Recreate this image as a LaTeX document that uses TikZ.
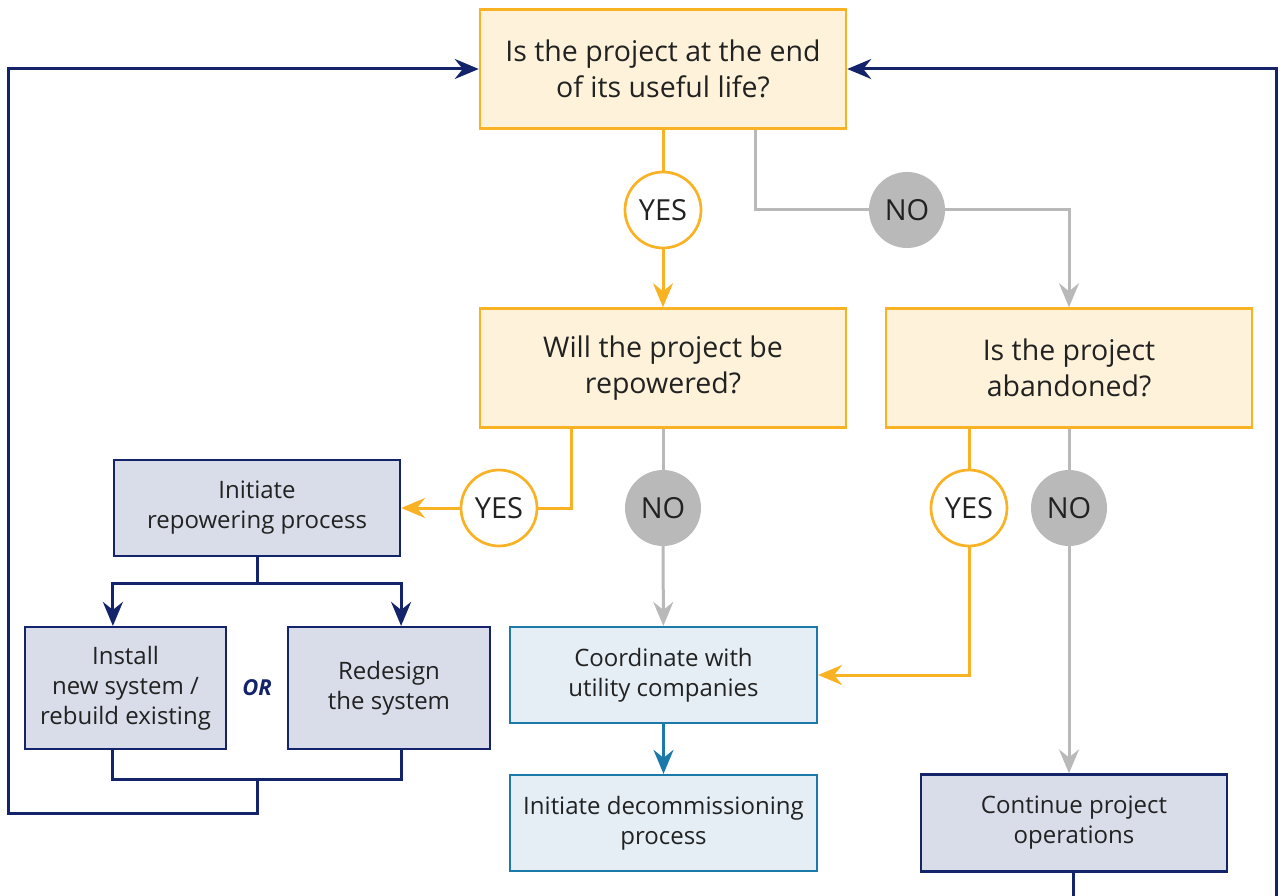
\documentclass[tikz,border=0pt]{standalone}
\usepackage{fontspec}
\setmainfont{Open Sans}
\usetikzlibrary{arrows.meta}

\definecolor{amber}{HTML}{F9B224}
\definecolor{cream}{HTML}{FEF3DA}
\definecolor{navy}{HTML}{14246A}
\definecolor{slatefill}{HTML}{D9DDE9}
\definecolor{steel}{HTML}{1C7AAB}
\definecolor{icefill}{HTML}{E5EEF5}
\definecolor{ash}{HTML}{B9B9B9}
\definecolor{ink}{HTML}{222222}

\tikzset{
  question/.style={draw=amber, fill=cream, line width=2.5pt, minimum width=366pt,
    minimum height=119pt, align=center, text=ink, font=\fontsize{28.5}{36}\selectfont},
  action/.style={draw=navy, fill=slatefill, line width=2.2pt, align=center, text=ink,
    font=\fontsize{24}{30}\selectfont},
  utility/.style={draw=steel, fill=icefill, line width=2.2pt, align=center, text=ink,
    minimum width=307pt, minimum height=96pt, font=\fontsize{24}{30}\selectfont},
  yesdot/.style={circle, draw=amber, fill=white, line width=2.7pt, minimum size=76pt,
    inner sep=0pt, text=ink, font=\fontsize{29}{30}\selectfont},
  nodot/.style={circle, fill=ash, minimum size=76pt, inner sep=0pt, text=ink,
    font=\fontsize{29}{30}\selectfont},
  tip/.style={-{Stealth[length=24pt,width=20pt,inset=8pt]}},
  yesline/.style={draw=amber, line width=3pt},
  noline/.style={draw=ash, line width=3pt},
  loopline/.style={draw=navy, line width=3pt},
  flowline/.style={draw=steel, line width=3pt}
}

\begin{document}
\begin{tikzpicture}[x=1pt, y=-1pt]
    \useasboundingbox (0,0) rectangle (1286,896);

    % Questions
    \node[question] (q1) at (663,69) {Is the project at the end\\of its useful life?};
    \node[question] (q2) at (663,368) {Will the project be\\repowered?};
    \node[question] (q3) at (1069,368) {Is the project\\abandoned?};

    % Answers
    \node[yesdot] (yes1) at (663,210) {YES};
    \node[nodot] (no1) at (907,210) {NO};
    \node[yesdot] (yes2) at (499,508) {YES};
    \node[nodot] (no2) at (663,508) {NO};
    \node[yesdot] (yes3) at (969,508) {YES};
    \node[nodot] (no3) at (1069,508) {NO};

    % Repowering branch
    \node[action, minimum width=286pt, minimum height=96pt] (repower) at (257,508) {Initiate\\repowering process};
    \node[action, minimum width=201pt, minimum height=122pt] (install) at (125.5,688) {Install\\new system /\\rebuild existing};
    \node[action, minimum width=202pt, minimum height=122pt] (redesign) at (389,688) {Redesign\\the system};
    \node[text=navy, font=\fontsize{22}{24}\selectfont\bfseries\itshape] (or) at (257,688) {OR};

    % Decommissioning branch
    \node[utility] (utility) at (663.5,675) {Coordinate with\\utility companies};
    \node[utility] (decom) at (663.5,823) {Initiate decommissioning\\process};

    % Keep running
    \node[action, minimum width=306pt, minimum height=97pt] (operate) at (1074,823) {Continue project\\operations};

    % Helper points for the loops
    \coordinate (split) at (257,583);
    \coordinate (merge) at (257,779);
    \coordinate (loopL) at (8,813);
    \coordinate (loopR) at (1276,896);

    % First question
    \draw[yesline] (q1) -- (yes1);
    \draw[yesline, tip] (yes1) -- (q2);
    \draw[noline] (q1.south) ++(92,0) |- (no1);
    \draw[noline, tip] (no1) -| (q3.north);

    % Second question
    \draw[yesline] (q2.south) ++(-92,0) |- (yes2);
    \draw[yesline, tip] (yes2) -- (repower);
    \draw[noline] (q2) -- (no2);
    \draw[noline, tip] (no2) -- (utility);

    % Third question
    \draw[yesline] (q3.south) ++(-100,0) -- (yes3);
    \draw[yesline, tip] (yes3) |- (utility.east);
    \draw[noline] (q3) -- (no3);
    \draw[noline, tip] (no3) -- (no3 |- operate.north);

    \draw[flowline, tip] (utility) -- (decom);

    % Repowering loop back to the top
    \draw[loopline] (repower) -- (split);
    \draw[loopline, tip] (split) -| (install.north -| repower.west);
    \draw[loopline, tip] (split) -| (redesign.north -| repower.east);
    \draw[loopline] (install.south -| repower.west) |- (merge) -| (redesign.south -| repower.east);
    \draw[loopline, tip] (merge) |- (loopL) |- (q1.west);

    % Operations loop back to the top
    \draw[loopline] (operate.south -| 1073,0) -- (1073,896);
    \draw[loopline, tip] (loopR) |- (q1.east);
\end{tikzpicture}
\end{document}
